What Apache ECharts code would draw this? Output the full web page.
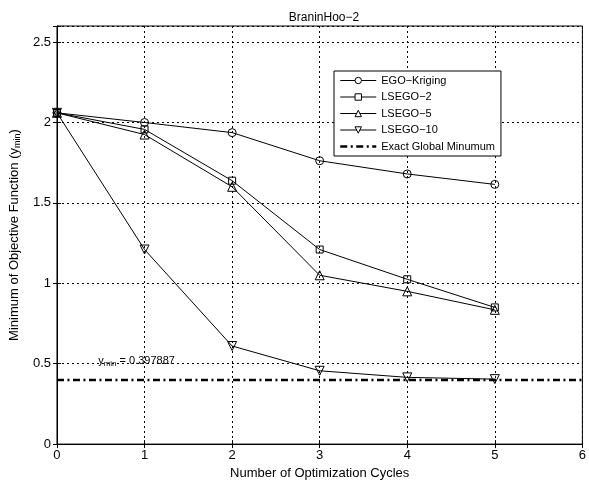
<!DOCTYPE html>
<html>
<head>
<meta charset="utf-8">
<script src="https://cdn.jsdelivr.net/npm/echarts@6/dist/echarts.min.js"></script>
<style>html,body{margin:0;padding:0;background:#fff}#c{width:589px;height:485px}</style>
</head>
<body>
<div id="c"></div>
<script>
const cycles = [0, 1, 2, 3, 4, 5];
const egoKriging = [2.06, 2.00, 1.937, 1.762, 1.68, 1.615];
const lsego2 = [2.06, 1.957, 1.638, 1.21, 1.025, 0.85];
const lsego5 = [2.06, 1.925, 1.60, 1.05, 0.95, 0.835];
const lsego10 = [2.06, 1.21, 0.61, 0.456, 0.415, 0.404];
const exactMin = 0.397887;
const xTicks = [0, 1, 2, 3, 4, 5, 6];
const yTicks = [0, 0.5, 1, 1.5, 2, 2.5];
const seriesNames = ['EGO\u2212Kriging','LSEGO\u22122','LSEGO\u22125','LSEGO\u221210','Exact Global Minumum'];

const FONT = 'Liberation Sans';
const downTri = 'path://M0,0 L10,0 L5,9 Z';
const DASHDOT = [7,3.5,2,3.5];

function pairs(vals){ return cycles.map((c,i)=>[c, vals[i]]); }

function mk(name, vals, symbol, size){
  return {
    name, type:'line', data: pairs(vals), symbol, symbolSize: size,
    showAllSymbol: true,
    lineStyle:{color:'#000', width:1},
    itemStyle:{color:'rgba(255,255,255,0)', borderColor:'#000', borderWidth:1},
    emphasis:{disabled:true}, animation:false, z:3
  };
}

const chart = echarts.init(document.getElementById('c'), null, {renderer:'canvas'});
const axisCommon = {
  axisLine:{show:true, lineStyle:{color:'#000', width:1}},
  axisTick:{show:true, inside:true, length:4, lineStyle:{color:'#000'}},
};
const legendData = seriesNames.map((n,i)=> i<4 ? {
  name:n,
  itemStyle:{color:'#fff', borderColor:'#000', borderWidth:1},
  lineStyle:{color:'#000', width:1, type:'solid'}
} : {
  name:n,
  itemStyle:{color:'rgba(0,0,0,0)', borderColor:'rgba(0,0,0,0)', borderWidth:0, opacity:0},
  lineStyle:{color:'#000', width:2.5, type:DASHDOT}
});
chart.setOption({
  backgroundColor:'#fff',
  animation:false,
  title:{text:'BraninHoo\u22122', left:319, top:7, textAlign:'center',
    textStyle:{fontFamily:FONT, fontSize:12, fontWeight:'normal', color:'#000'}},
  grid:{left:53, right:4, top:26, bottom:38, show:true, borderColor:'#000', borderWidth:1, backgroundColor:'#fff'},
  legend:{
    orient:'vertical', left:334, top:71, itemWidth:36, itemHeight:8, itemGap:5.5,
    backgroundColor:'#fff', borderColor:'#000', borderWidth:1, padding:[4,6,4,5],
    textStyle:{fontFamily:FONT, fontSize:11, color:'#000'},
    data:legendData
  },
  xAxis:[{
    type:'value', min:0, max:6, interval:1,
    name:'Number of Optimization Cycles', nameLocation:'middle', nameGap:19,
    nameTextStyle:{fontFamily:FONT, fontSize:13, color:'#000'},
    axisLabel:{fontFamily:FONT, fontSize:13, color:'#000', margin:5,
      formatter:(v)=> xTicks.includes(v) ? String(v) : ''},
    splitLine:{show:true, lineStyle:{color:'#000', type:[2,3], width:1}},
    ...axisCommon
  },{
    type:'value', min:0, max:6, interval:1, position:'top',
    axisLabel:{show:false}, splitLine:{show:false}, ...axisCommon
  }],
  yAxis:[{
    type:'value', min:0, max:2.6, interval:0.5,
    name:'{a|Minimum of Objective Function (y}{s|min}{a|)}', nameLocation:'middle', nameGap:30,
    nameTextStyle:{fontFamily:FONT, fontSize:13, color:'#000',
      rich:{a:{fontFamily:FONT, fontSize:13, color:'#000'}, s:{fontFamily:FONT, fontSize:9, color:'#000', verticalAlign:'bottom', padding:[6,0,0,0]}}},
    axisLabel:{fontFamily:FONT, fontSize:13, color:'#000', margin:6,
      formatter:(v)=> yTicks.some(t=>Math.abs(t-v)<1e-9) ? String(v) : ''},
    splitLine:{show:true, lineStyle:{color:'#000', type:[2,3], width:1}},
    ...axisCommon
  },{
    type:'value', min:0, max:2.6, interval:0.5, position:'right',
    axisLabel:{show:false}, splitLine:{show:false}, ...axisCommon
  }],
  series:[
    mk(seriesNames[0], egoKriging, 'circle', 8),
    mk(seriesNames[1], lsego2, 'rect', 7),
    mk(seriesNames[2], lsego5, 'triangle', 9),
    mk(seriesNames[3], lsego10, downTri, 9),
    {
      name:seriesNames[4], type:'line', data:[[0, exactMin],[6, exactMin]],
      symbol:'none', lineStyle:{color:'#000', width:2.5, type:DASHDOT},
      itemStyle:{color:'#000'}, emphasis:{disabled:true}, z:2,
      markPoint:{
        symbol:'circle', symbolSize:0, silent:true,
        data:[{coord:[0.47, 0.52],
          label:{show:true, position:'right', distance:0,
            formatter:'{a|y}{s|min}{a| = 0.397887}',
            rich:{a:{fontFamily:FONT, fontSize:11, color:'#000'}, s:{fontFamily:FONT, fontSize:8, color:'#000', padding:[7,0,0,0]}}}
        }]
      }
    }
  ]
});
</script>
</body>
</html>
